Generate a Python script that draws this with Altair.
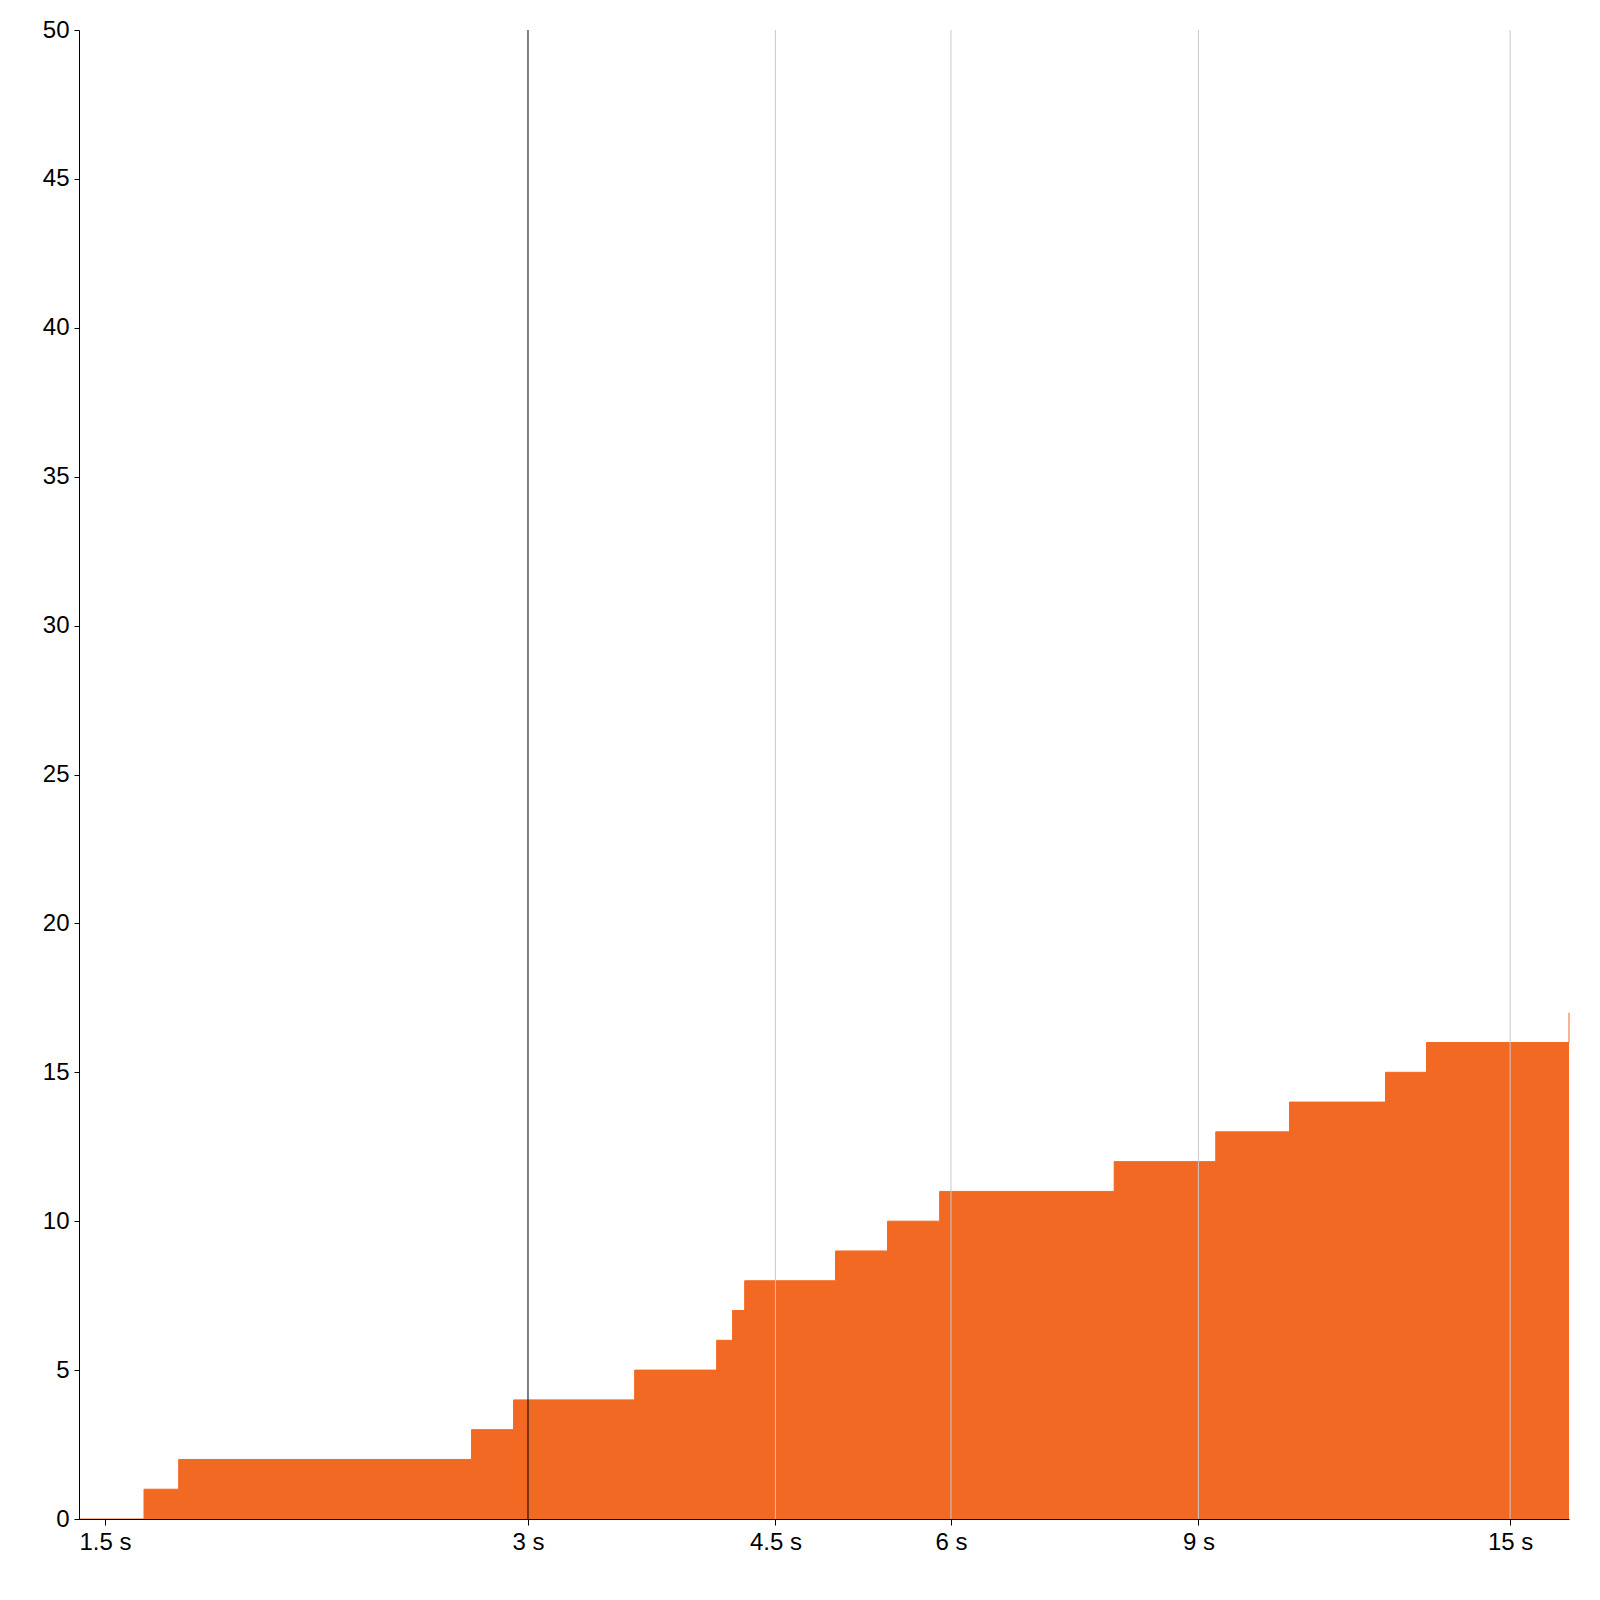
import altair as alt
import pandas as pd

# step times (seconds) and cumulative counts
times = [1.4374, 1.599, 1.6925, 2.735, 2.93, 3.573, 4.087, 4.195, 4.279,
         4.966, 5.408, 5.89, 7.84, 9.26, 10.45, 12.23, 13.08, 16.52]
counts = [0, 1, 2, 3, 4, 5, 6, 7, 8, 9, 10, 11, 12, 13, 14, 15, 16, 17]

x_ticks = [1.5, 3, 4.5, 6, 9, 15]
grid_values = [4.5, 6, 9, 15]
marker_values = [3]
y_ticks = [0, 5, 10, 15, 20, 25, 30, 35, 40, 45, 50]

df = pd.DataFrame({"t": times, "n": counts})
grid_df = pd.DataFrame({"t": grid_values})
marker_df = pd.DataFrame({"t": marker_values})

ORANGE = "#F26924"

x_scale = alt.Scale(type="log", domain=[1.4374, 16.52], nice=False)
y_scale = alt.Scale(domain=[0, 50], nice=False)

x_axis = alt.Axis(values=x_ticks, labelExpr="datum.value + ' s'", title=None,
                  grid=False, tickSize=6, labelPadding=5, labelFlush=False,
                  zindex=1)
y_axis = alt.Axis(values=y_ticks, title=None, grid=False, tickSize=5,
                  labelPadding=5, zindex=1)

area = alt.Chart(df).mark_area(
    interpolate="step-after", color=ORANGE, opacity=1,
    line={"color": ORANGE, "strokeWidth": 1}
).encode(
    x=alt.X("t:Q", scale=x_scale, axis=x_axis),
    y=alt.Y("n:Q", scale=y_scale, axis=y_axis),
)

grid = alt.Chart(grid_df).mark_rule(color="#c8c8c8", strokeWidth=1).encode(
    x=alt.X("t:Q", scale=x_scale)
)

marker = alt.Chart(marker_df).mark_rule(color="#000000", strokeWidth=1).encode(
    x=alt.X("t:Q", scale=x_scale)
)

chart = alt.layer(area, grid, marker).properties(
    width=1490, height=1489,
    autosize=alt.AutoSizeParams(type="none"),
    padding={"left": 71, "top": 22, "right": 20, "bottom": 60},
).configure_axis(
    labelFont="Liberation Sans", labelFontSize=24, labelColor="#000000",
    tickColor="#000000", domainColor="#000000", domainWidth=1, tickWidth=1,
).configure_view(stroke=None)

chart.save("out.html", embed_options={"renderer": "svg", "actions": False})
